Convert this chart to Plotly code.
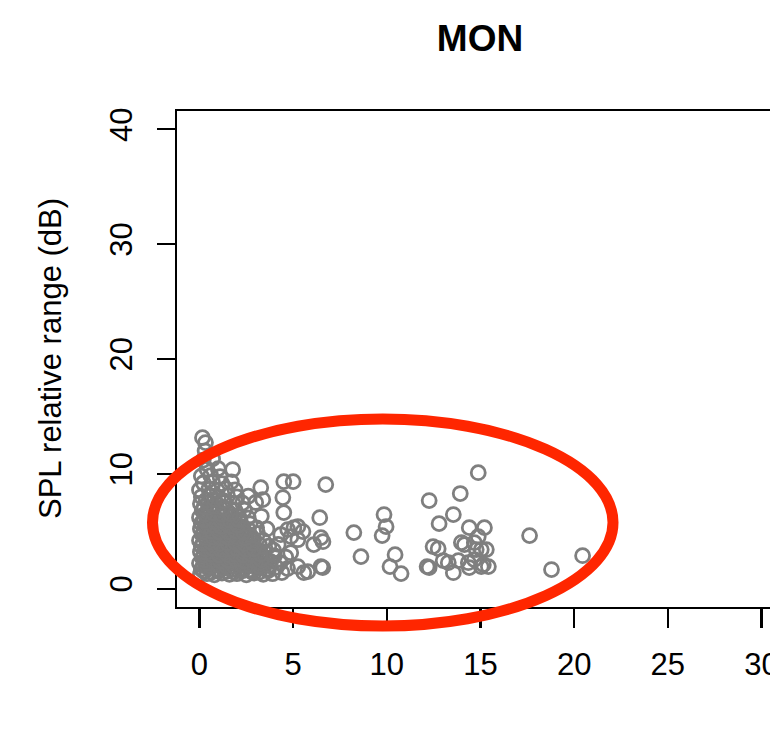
import plotly.graph_objects as go

# ---------------- data ----------------
title_text = "MON"
y_label = "SPL relative range (dB)"
x_ticks = [0, 5, 10, 15, 20, 25, 30]
y_ticks = [0, 10, 20, 30, 40]

# dense cluster near the origin
cluster_x = [
    0.05, 0.40, 0.80, 1.20, 1.60, 2.00, 2.50, 2.90, 3.40, 3.90, 4.40,
    0.10, 0.55, 0.95, 1.35, 1.80, 2.25, 2.70, 3.15, 3.60, 4.10, 4.70,
    0.00, 0.30, 0.70, 1.10, 1.50, 1.95, 2.40, 2.80, 3.30, 3.80, 4.30,
    0.15, 0.50, 0.90, 1.30, 1.75, 2.20, 2.60, 3.05, 3.50, 4.00, 4.60,
    0.05, 0.45, 0.85, 1.25, 1.70, 2.10, 2.55, 3.00, 3.45, 3.95,
    0.10, 0.50, 0.95, 1.40, 1.85, 2.30, 2.75, 3.20, 3.70, 4.20,
    0.00, 0.40, 0.80, 1.20, 1.60, 2.05, 2.50, 2.90, 3.40,
    0.15, 0.55, 0.95, 1.35, 1.80, 2.25, 2.70, 3.10,
    0.05, 0.45, 0.85, 1.30, 1.70, 2.15, 2.60, 3.05, 3.60,
    0.10, 0.50, 0.90, 1.35, 1.80, 2.20, 2.70,
    0.00, 0.40, 0.80, 1.25, 1.65, 2.10, 2.60, 3.30,
    0.15, 0.55, 1.00, 1.40, 1.90, 2.40,
    0.05, 0.45, 0.90, 1.30, 1.80, 2.30, 3.00,
    0.10, 0.55, 1.00, 1.50, 2.00, 2.60,
    0.00, 0.50, 0.95, 1.40, 1.90,
    0.20, 0.70, 1.20, 1.70,
    0.10, 0.60, 1.10,
    0.40, 1.00, 1.77,
    0.20, 0.70,
    0.30, 0.16, 0.32,
    # interleaved points filling the core
    0.25, 0.65, 1.05, 1.45, 1.85, 2.30, 2.75, 3.20, 3.65,
    0.20, 0.60, 1.00, 1.40, 1.85, 2.30, 2.70, 3.20, 3.70,
    0.30, 0.70, 1.10, 1.55, 1.95, 2.40, 2.85, 3.30,
    0.25, 0.65, 1.05, 1.50, 1.90, 2.35, 2.80, 3.25,
    0.30, 0.70, 1.15, 1.55, 2.00, 2.45, 2.90,
    0.20, 0.65, 1.10, 1.50, 1.95, 2.40, 2.85,
    0.30, 0.70, 1.10, 1.55, 2.00, 2.45,
    0.25, 0.65, 1.05, 1.50, 1.95, 2.35,
    0.30, 0.75, 1.15, 1.60, 2.05,
    0.25, 0.70, 1.15, 1.60, 2.10,
    0.30, 0.75, 1.20, 1.65,
    0.25, 0.75, 1.25,
    0.35, 0.80, 1.30,
]
cluster_y = [
    1.25, 1.30, 1.20, 1.35, 1.25, 1.30, 1.20, 1.35, 1.25, 1.30, 1.40,
    1.70, 1.75, 1.65, 1.80, 1.70, 1.75, 1.65, 1.80, 1.70, 1.85, 1.75,
    2.20, 2.25, 2.15, 2.30, 2.20, 2.25, 2.15, 2.30, 2.20, 2.35, 2.25,
    2.70, 2.75, 2.65, 2.80, 2.70, 2.75, 2.65, 2.80, 2.70, 2.85, 2.75,
    3.20, 3.25, 3.15, 3.30, 3.20, 3.25, 3.15, 3.30, 3.20, 3.35,
    3.70, 3.75, 3.65, 3.80, 3.70, 3.75, 3.65, 3.80, 3.70, 3.85,
    4.20, 4.25, 4.15, 4.30, 4.20, 4.25, 4.15, 4.30, 4.20,
    4.70, 4.75, 4.65, 4.80, 4.70, 4.75, 4.65, 4.80,
    5.20, 5.25, 5.15, 5.30, 5.20, 5.25, 5.15, 5.30, 5.20,
    5.70, 5.75, 5.65, 5.80, 5.70, 5.75, 5.65,
    6.20, 6.25, 6.15, 6.30, 6.20, 6.25, 6.15, 6.30,
    6.80, 6.85, 6.75, 6.90, 6.80, 6.85,
    7.40, 7.45, 7.35, 7.50, 7.40, 7.45, 7.50,
    8.00, 8.05, 7.95, 8.10, 8.00, 8.05,
    8.60, 8.65, 8.55, 8.70, 8.60,
    9.20, 9.25, 9.15, 9.30,
    9.80, 9.85, 9.75,
    10.40, 10.45, 10.37,
    11.20, 11.30,
    12.00, 13.15, 12.72,
    # interleaved points filling the core
    1.50, 1.45, 1.55, 1.50, 1.45, 1.55, 1.50, 1.45, 1.55,
    2.00, 1.95, 2.05, 2.00, 1.95, 2.05, 2.00, 1.95, 2.00,
    2.45, 2.50, 2.40, 2.45, 2.50, 2.40, 2.45, 2.50,
    2.95, 3.00, 2.90, 2.95, 3.00, 2.90, 2.95, 3.00,
    3.45, 3.50, 3.40, 3.45, 3.50, 3.40, 3.45,
    3.95, 4.00, 3.90, 3.95, 4.00, 3.90, 3.95,
    4.45, 4.50, 4.40, 4.45, 4.50, 4.40,
    4.95, 5.00, 4.90, 4.95, 5.00, 4.90,
    5.45, 5.50, 5.40, 5.45, 5.50,
    5.95, 6.00, 5.90, 5.95, 6.00,
    6.50, 6.55, 6.45, 6.50,
    7.10, 7.15, 7.05,
    7.70, 7.75, 7.65,
]

# scattered points to the right of the cluster
spread_x = [4.50, 5.00, 6.74, 3.27, 3.38, 4.45, 4.50, 5.04, 5.52, 6.48, 6.10,
            6.48, 6.58, 5.57, 4.88, 6.59, 5.25, 5.78, 4.87, 5.25, 4.34, 4.71,
            5.25, 6.42,
            8.24, 8.62, 9.85, 9.96, 9.75, 10.44, 10.17, 10.76,
            12.26, 12.79, 13.55, 13.92, 14.88, 14.40, 15.21, 14.88, 12.47,
            12.74, 12.15, 12.26, 13.01, 13.28, 13.55, 14.14, 14.67, 14.77,
            15.04, 15.31, 13.82, 14.35, 14.67, 15.04, 15.42, 14.40, 15.15,
            13.98, 17.62, 18.79, 20.45]
spread_y = [9.32, 9.32, 9.06, 8.80, 7.75, 7.93, 6.62, 5.31, 4.97, 4.44, 3.83,
            1.92, 1.83, 1.39, 4.53, 4.09, 1.92, 1.48, 3.13, 4.26, 4.70, 5.14,
            5.40, 6.18,
            4.88, 2.79, 6.45, 5.40, 4.62, 2.96, 1.92, 1.31,
            7.67, 5.66, 6.45, 8.28, 10.10, 5.31, 5.31, 4.53, 3.66,
            3.48, 1.92, 1.83, 2.44, 2.26, 1.39, 3.83, 4.01, 3.40,
            3.40, 3.40, 2.44, 2.26, 2.53, 1.92, 1.92, 1.83, 2.09,
            4.01, 4.62, 1.66, 2.87]

x_all = cluster_x + spread_x
y_all = cluster_y + spread_y

# ---------------- figure ----------------
OFF = 0                      # page-body margin removed below (post_script)
W, H = 784, 750              # plot region runs past the right window edge
ML, MR, MT = 177 - OFF, 0, 111 - OFF
MB = H - (607 - OFF)
PW, PH = W - ML - MR, H - MT - MB

def px_x(p):                 # screen pixel -> paper x
    return (p - OFF - ML) / PW

def px_y(p):                 # screen pixel -> paper y
    return (H - MB - (p - OFF)) / PH

FONT = "Liberation Sans, Arial, Helvetica, sans-serif"
GRAY = "#7F7F7F"

fig = go.Figure()
fig.add_trace(go.Scatter(
    x=x_all, y=y_all, mode="markers",
    marker=dict(symbol="circle-open", size=14, color=GRAY,
                line=dict(width=2.8, color=GRAY)),
    showlegend=False, hoverinfo="skip",
))

fig.update_layout(
    width=W, height=H,
    margin=dict(l=ML, r=MR, t=MT, b=MB, pad=0, autoexpand=False),
    paper_bgcolor="white", plot_bgcolor="white",
    font=dict(family=FONT, color="black"),
    showlegend=False,
    title=dict(text="<b>" + title_text + "</b>", xref="container", yref="container",
               x=(480 - OFF) / W, y=1 - (38 - OFF) / H, xanchor="center", yanchor="middle",
               font=dict(size=37, family=FONT, color="black")),
    xaxis=dict(range=[-1.2, 31.2], tickvals=x_ticks, ticktext=[str(v) for v in x_ticks],
               automargin=False,
               showgrid=False, zeroline=False, showline=True, mirror=True,
               linecolor="black", linewidth=2.2,
               ticks="outside", ticklen=19, tickwidth=2.2, tickcolor="black",
               tickfont=dict(size=31, family=FONT, color="black"),
               ticklabelstandoff=10, ticklabeloverflow="allow"),
    yaxis=dict(range=[-1.6, 41.6], tickvals=y_ticks, ticktext=[str(v) for v in y_ticks],
               automargin=False,
               showgrid=False, zeroline=False, showline=True, mirror=False,
               linecolor="black", linewidth=2.2,
               ticks="outside", ticklen=18, tickwidth=2.2, tickcolor="black",
               tickangle=-90,
               tickfont=dict(size=31, family=FONT, color="black"),
               ticklabelstandoff=12),
)

# y axis title
fig.add_annotation(text=y_label, xref="paper", yref="paper",
                   x=px_x(50), y=0.5, xanchor="center", yanchor="middle",
                   textangle=-90, showarrow=False,
                   font=dict(size=31, family=FONT, color="black"))

# red highlighting ellipse
fig.add_shape(type="circle", xref="paper", yref="paper",
              x0=px_x(152.5), x1=px_x(613), y0=px_y(626), y1=px_y(419),
              line=dict(color="rgb(255,38,0)", width=11), layer="above")

fig.write_html("out.html",
               config={"displayModeBar": False, "staticPlot": True},
               post_script="document.body.style.margin='0px';document.body.style.overflow='hidden';")
